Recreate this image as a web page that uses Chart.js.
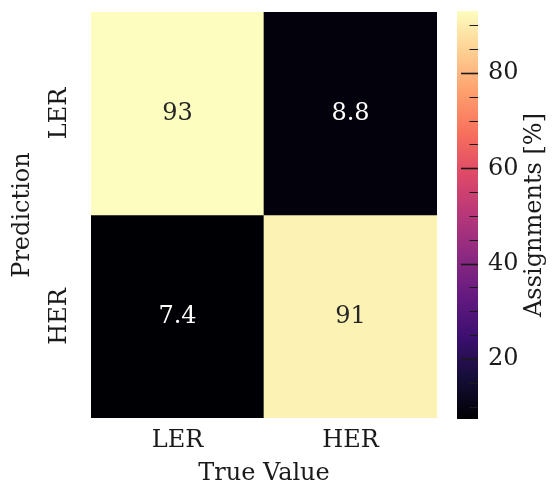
<!DOCTYPE html>
<html>
<head>
<meta charset="utf-8">
<script src="https://cdn.jsdelivr.net/npm/chart.js@4.4.1/dist/chart.umd.min.js"></script>
<style>
  html, body { margin: 0; padding: 0; background: #fff; }
  #wrap { position: relative; width: 555px; height: 491px; }
  #wrap canvas { position: absolute; left: 0; top: 0; }
</style>
</head>
<body>
<div id="wrap">
  <canvas id="heat" width="555" height="491"></canvas>
  <canvas id="cbar" width="555" height="491"></canvas>
</div>
<script>
'use strict';

// Confusion matrix, percent of each true class
const trueLabels = ['LER', 'HER'];
const predLabels = ['LER', 'HER'];
const rowLER = [93, 8.8];   // predicted LER
const rowHER = [7.4, 91];   // predicted HER

// Colour bar range and ticks
const cbarMin = 7.4;
const cbarMax = 93;
const cbarTicks = [20, 40, 60, 80];
const cbarMinorTicks = [10, 15, 25, 30, 35, 45, 50, 55, 65, 70, 75, 85, 90];

const FONT = '"DejaVu Serif", "Liberation Serif", serif';
const FSIZE = 24;
const TEXT = '#1a1a1a';

// magma colormap, sampled at 0.0, 0.1, ... 1.0
const MAGMA = [
  '#000004', '#140e36', '#3b0f70', '#641a80', '#8c2981', '#b73779',
  '#de4968', '#f7705c', '#fe9f6d', '#fecf92', '#fcfdbf',
];

function hexToRgb(h) {
  const n = parseInt(h.slice(1), 16);
  return [(n >> 16) & 255, (n >> 8) & 255, n & 255];
}

function cmap(v) {
  const t = Math.min(1, Math.max(0, (v - cbarMin) / (cbarMax - cbarMin)));
  const pos = t * (MAGMA.length - 1);
  const k = Math.min(MAGMA.length - 2, Math.floor(pos));
  const f = pos - k;
  const a = hexToRgb(MAGMA[k]);
  const b = hexToRgb(MAGMA[k + 1]);
  const c = a.map((x, i) => Math.round(x + (b[i] - x) * f));
  return `rgb(${c[0]},${c[1]},${c[2]})`;
}

function isLight(rgbStr) {
  const c = rgbStr.match(/\d+/g).map(Number).map(x => {
    x /= 255;
    return x <= 0.03928 ? x / 12.92 : Math.pow((x + 0.055) / 1.055, 2.4);
  });
  return 0.2126 * c[0] + 0.7152 * c[1] + 0.0722 * c[2] > 0.408;
}

// scales keep exactly the box given in afterFit, no extra label padding
function fixBox(w, h) {
  return s => {
    if (w != null) s.width = w;
    if (h != null) s.height = h;
    s.paddingTop = s.paddingBottom = s.paddingLeft = s.paddingRight = 0;
  };
}

// ─────────────────────────────────────────────────────────────
// Heatmap
// ─────────────────────────────────────────────────────────────

const rows = [rowLER, rowHER];

const heatDatasets = rows.map((vals, i) => ({
  label:              predLabels[i],
  data:               vals.map(() => [i - 0.5, i + 0.5]),
  values:             vals,
  backgroundColor:    vals.map(cmap),
  borderWidth:        0,
  borderSkipped:      false,
  grouped:            false,
  categoryPercentage: 1,
  barPercentage:      1,
}));

const cellLabels = {
  id: 'cellLabels',
  afterDatasetsDraw(chart) {
    const ctx = chart.ctx;
    ctx.save();
    ctx.font = `${FSIZE}px ${FONT}`;
    ctx.textAlign = 'center';
    ctx.textBaseline = 'middle';
    chart.data.datasets.forEach((ds, i) => {
      chart.getDatasetMeta(i).data.forEach((bar, j) => {
        const col = ds.backgroundColor[j];
        ctx.fillStyle = isLight(col) ? '#262626' : '#ffffff';
        ctx.fillText(String(ds.values[j]), bar.x, (bar.y + bar.base) / 2);
      });
    });
    ctx.restore();
  },
};

new Chart(document.getElementById('heat'), {
  type: 'bar',
  data: { labels: trueLabels, datasets: heatDatasets },
  options: {
    responsive: false,
    animation: false,
    layout: { padding: { top: 12, right: 118, left: 0, bottom: 0 } },
    plugins: { legend: { display: false }, tooltip: { enabled: false } },
    scales: {
      x: {
        type: 'category',
        grid:   { display: false, drawTicks: false },
        border: { display: false },
        ticks:  { color: TEXT, font: { family: FONT, size: FSIZE }, padding: 8 },
        title:  {
          display: true, text: 'True Value', color: TEXT,
          font: { family: FONT, size: FSIZE }, padding: { top: 0, bottom: 3 },
        },
        afterFit: fixBox(null, 73),
      },
      y: {
        type: 'linear',
        min: -0.5,
        max: 1.5,
        reverse: true,
        grid:   { display: false, drawTicks: false },
        border: { display: false },
        afterBuildTicks: s => { s.ticks = predLabels.map((_, i) => ({ value: i })); },
        ticks: {
          callback: v => predLabels[v],
          color: TEXT,
          font: { family: FONT, size: FSIZE },
          minRotation: 90,
          maxRotation: 90,
          crossAlign: 'center',
          autoSkip: false,
          padding: 3,
        },
        title: {
          display: true, text: 'Prediction', color: TEXT,
          font: { family: FONT, size: FSIZE }, padding: { top: 8, bottom: 0 },
        },
        afterFit: fixBox(91, null),
      },
    },
  },
  plugins: [cellLabels],
});

// ─────────────────────────────────────────────────────────────
// Colour bar
// ─────────────────────────────────────────────────────────────

function cbarGradient(ctx) {
  const chart = ctx.chart;
  if (!chart.chartArea) return MAGMA[0];
  const y = chart.scales.y;
  const g = chart.ctx.createLinearGradient(
    0, y.getPixelForValue(cbarMin), 0, y.getPixelForValue(cbarMax));
  MAGMA.forEach((c, k) => g.addColorStop(k / (MAGMA.length - 1), c));
  return g;
}

const cbarDecor = {
  id: 'cbarDecor',
  afterDatasetsDraw(chart) {
    const { ctx, chartArea: area, scales: { y } } = chart;
    ctx.save();
    ctx.strokeStyle = TEXT;

    // inward tick marks on the right edge
    const mark = (v, len, w) => {
      const py = Math.round(y.getPixelForValue(v)) + 0.5;
      ctx.lineWidth = w;
      ctx.beginPath();
      ctx.moveTo(area.right - len, py);
      ctx.lineTo(area.right, py);
      ctx.stroke();
    };
    cbarTicks.forEach(v => mark(v, 17, 1.6));
    cbarMinorTicks.forEach(v => mark(v, 8.5, 1));

    // bar label, reading bottom to top
    ctx.fillStyle = TEXT;
    ctx.font = `${FSIZE}px ${FONT}`;
    ctx.textAlign = 'center';
    ctx.textBaseline = 'middle';
    ctx.translate(535, (area.top + area.bottom) / 2);
    ctx.rotate(-Math.PI / 2);
    ctx.fillText('Assignments [%]', 0, 0);
    ctx.restore();
  },
};

new Chart(document.getElementById('cbar'), {
  type: 'bar',
  data: {
    labels: [''],
    datasets: [{
      data: [[cbarMin, cbarMax]],
      backgroundColor: cbarGradient,
      borderWidth: 0,
      borderSkipped: false,
      categoryPercentage: 1,
      barPercentage: 1,
    }],
  },
  options: {
    responsive: false,
    animation: false,
    layout: { padding: { top: 11, right: 0, left: 457, bottom: 72 } },
    plugins: { legend: { display: false }, tooltip: { enabled: false } },
    scales: {
      x: { display: false },
      y: {
        position: 'right',
        min: cbarMin,
        max: cbarMax,
        grid:   { display: false, drawTicks: false },
        border: { display: false },
        afterBuildTicks: s => { s.ticks = cbarTicks.map(v => ({ value: v })); },
        ticks: { color: TEXT, font: { family: FONT, size: FSIZE }, padding: 10 },
        afterFit: fixBox(77, null),
      },
    },
  },
  plugins: [cbarDecor],
});
</script>
</body>
</html>
